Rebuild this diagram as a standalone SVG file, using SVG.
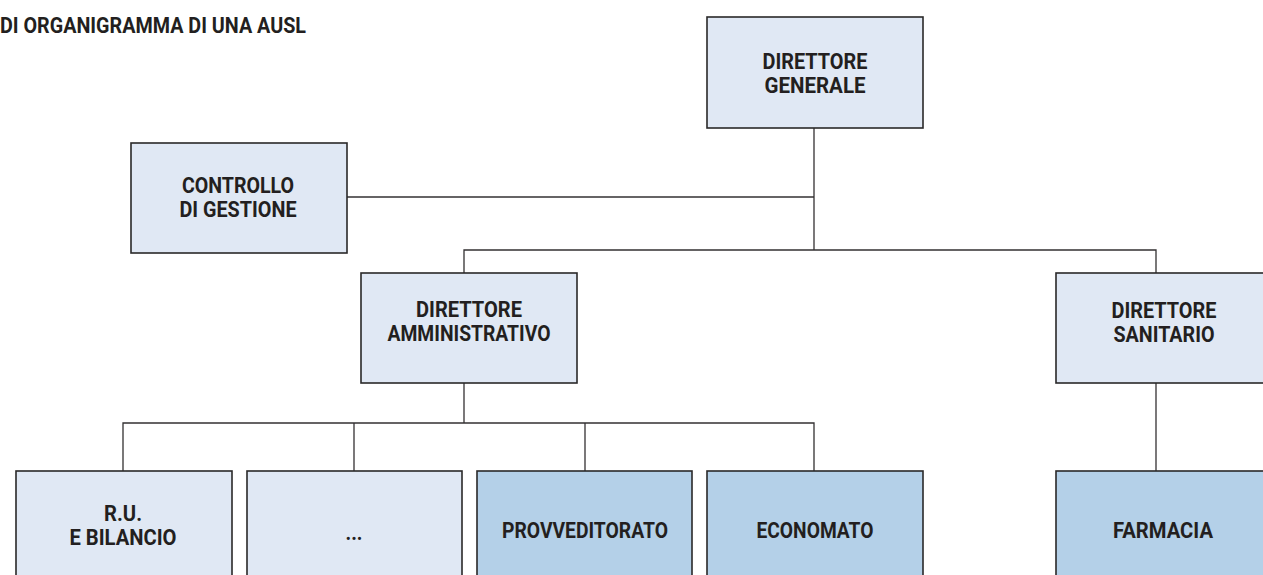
<svg xmlns="http://www.w3.org/2000/svg" width="1263" height="575" viewBox="0 0 1263 575">
  <style>
    .box { stroke: #2a2829; stroke-width: 1.6; }
    .light { fill: #e0e8f4; }
    .blue { fill: #b4d0e8; }
    .lbl { font-family: Roboto, "DejaVu Sans", sans-serif; font-weight: bold; font-size: 22px; fill: #231f20; text-anchor: middle; }
    .title { font-family: Roboto, "DejaVu Sans", sans-serif; font-weight: bold; font-size: 22px; fill: #231f20; }
    .conn { stroke: #333132; stroke-width: 1.3; fill: none; }
  </style>

  <rect width="1263" height="575" fill="#ffffff"/>

  <text class="title" x="0" y="33" textLength="306" lengthAdjust="spacingAndGlyphs">DI ORGANIGRAMMA DI UNA AUSL</text>

  <!-- connectors -->
  <g id="connectors">
    <path class="conn" d="M814 128 V250"/>
    <path class="conn" d="M347 197 H814"/>
    <path class="conn" d="M464 273 V250 H1156 V273"/>
    <path class="conn" d="M464 383 V423"/>
    <path class="conn" d="M123 471 V423 H814 V471"/>
    <path class="conn" d="M354 423 V471"/>
    <path class="conn" d="M585 423 V471"/>
    <path class="conn" d="M1156 383 V471"/>
  </g>

  <g id="direttore-generale">
    <rect class="box light" x="707" y="17" width="216" height="111"/>
    <text class="lbl" x="815" y="69" textLength="105" lengthAdjust="spacingAndGlyphs">DIRETTORE</text>
    <text class="lbl" x="815" y="93" textLength="101" lengthAdjust="spacingAndGlyphs">GENERALE</text>
  </g>

  <g id="controllo-gestione">
    <rect class="box light" x="131" y="143" width="216" height="110"/>
    <text class="lbl" x="238" y="193" textLength="112" lengthAdjust="spacingAndGlyphs">CONTROLLO</text>
    <text class="lbl" x="238" y="217" textLength="117" lengthAdjust="spacingAndGlyphs">DI GESTIONE</text>
  </g>

  <g id="direttore-amministrativo">
    <rect class="box light" x="361" y="273" width="216" height="110"/>
    <text class="lbl" x="469" y="317" textLength="106" lengthAdjust="spacingAndGlyphs">DIRETTORE</text>
    <text class="lbl" x="469" y="341" textLength="163" lengthAdjust="spacingAndGlyphs">AMMINISTRATIVO</text>
  </g>

  <g id="direttore-sanitario">
    <rect class="box light" x="1056" y="273" width="216" height="110"/>
    <text class="lbl" x="1164" y="318" textLength="105" lengthAdjust="spacingAndGlyphs">DIRETTORE</text>
    <text class="lbl" x="1164" y="342" textLength="101" lengthAdjust="spacingAndGlyphs">SANITARIO</text>
  </g>

  <g id="ru-bilancio">
    <rect class="box light" x="16" y="471" width="216" height="120"/>
    <text class="lbl" x="123" y="521" textLength="38" lengthAdjust="spacingAndGlyphs">R.U.</text>
    <text class="lbl" x="123" y="545" textLength="107" lengthAdjust="spacingAndGlyphs">E BILANCIO</text>
  </g>

  <g id="altro">
    <rect class="box light" x="247" y="471" width="215" height="120"/>
    <text class="lbl" x="354" y="540" textLength="17" lengthAdjust="spacingAndGlyphs">...</text>
  </g>

  <g id="provveditorato">
    <rect class="box blue" x="477" y="471" width="215" height="120"/>
    <text class="lbl" x="585" y="538" textLength="166" lengthAdjust="spacingAndGlyphs">PROVVEDITORATO</text>
  </g>

  <g id="economato">
    <rect class="box blue" x="707" y="471" width="216" height="120"/>
    <text class="lbl" x="815" y="538" textLength="117" lengthAdjust="spacingAndGlyphs">ECONOMATO</text>
  </g>

  <g id="farmacia">
    <rect class="box blue" x="1056" y="471" width="216" height="120"/>
    <text class="lbl" x="1163" y="538" textLength="100" lengthAdjust="spacingAndGlyphs">FARMACIA</text>
  </g>
</svg>
